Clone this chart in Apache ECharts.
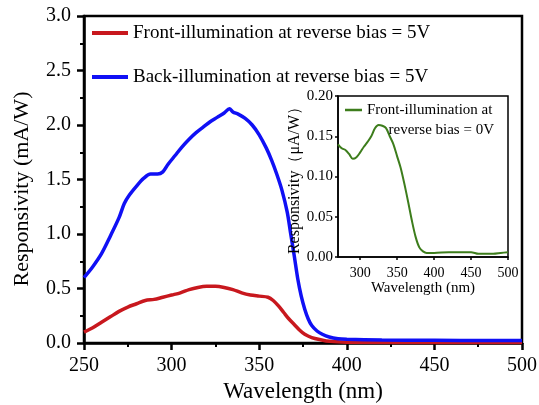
<!DOCTYPE html>
<html>
<head>
<meta charset="utf-8">
<script src="https://cdn.jsdelivr.net/npm/echarts@6/dist/echarts.min.js"></script>
<style>html,body{margin:0;padding:0;background:#fff}#c{width:539px;height:405px}</style>
</head>
<body>
<div id="c"></div>
<script>
// Main chart data (wavelength nm, responsivity mA/W)
const backWl   = [250,255,260,265,270,273,276,280,284,288,292,295,298,302,306,310,314,318,322,326,330,333,335,338,342,346,350,354,357,360,363,366,368,370,372,374,376,378,380,383,386,390,395,400,420,450,480,500];
const backVals = [0.60,0.70,0.82,0.98,1.15,1.28,1.36,1.44,1.51,1.55,1.55,1.57,1.64,1.72,1.80,1.87,1.93,1.98,2.03,2.07,2.11,2.15,2.12,2.10,2.06,2.00,1.91,1.79,1.68,1.55,1.40,1.20,1.00,0.80,0.59,0.43,0.31,0.22,0.16,0.11,0.08,0.055,0.04,0.035,0.028,0.025,0.022,0.022];
const frontWl   = [250,255,260,265,270,275,280,285,290,295,300,305,310,315,320,325,330,335,340,345,350,355,358,361,364,367,370,373,376,380,385,390,400,450,500];
const frontVals = [0.10,0.14,0.19,0.24,0.29,0.33,0.36,0.39,0.40,0.42,0.44,0.46,0.49,0.51,0.52,0.52,0.51,0.49,0.46,0.44,0.43,0.42,0.39,0.34,0.28,0.22,0.17,0.12,0.08,0.05,0.03,0.015,0.008,0.005,0.005];
// Inset data (wavelength nm, responsivity μA/W)
const insetWl   = [270,275,280,285,290,295,300,305,310,315,320,325,330,335,340,345,350,355,360,365,370,375,380,385,390,400,420,450,460,480,490,500];
const insetVals = [0.140,0.135,0.133,0.128,0.122,0.124,0.130,0.137,0.143,0.150,0.160,0.164,0.163,0.160,0.150,0.140,0.125,0.110,0.090,0.068,0.045,0.025,0.012,0.007,0.005,0.005,0.006,0.006,0.004,0.004,0.005,0.006];
const insetXTicks = [300,350,400,450,500];
const names = ['Front-illumination at reverse bias = 5V','Back-illumination at reverse bias = 5V','Front-illumination at reverse bias = 0V'];

const pairs = (xs, ys) => xs.map((x, i) => [x, ys[i]]);
const FONT = "'Liberation Serif','Times New Roman',serif";
const chart = echarts.init(document.getElementById('c'), null, {renderer: 'canvas'});

chart.setOption({
  animation: false,
  backgroundColor: '#fff',
  textStyle: {fontFamily: FONT, color: '#000'},
  grid: [
    {left: 84, right: 17, top: 16, bottom: 62, outerBoundsMode: 'none', containLabel: false,
     show: true, borderColor: '#000', borderWidth: 2.5, backgroundColor: 'transparent'},
    {left: 338, right: 31, top: 96, bottom: 148, outerBoundsMode: 'none', containLabel: false,
     show: true, borderColor: '#000', borderWidth: 1.5, backgroundColor: '#fff', z: 5}
  ],
  xAxis: [
    {gridIndex: 0, type: 'value', min: 250, max: 500, interval: 50,
     axisLine: {lineStyle: {color: '#000', width: 2.5}},
     axisTick: {inside: false, length: 7, lineStyle: {width: 2.5, color: '#000'}},
     minorTick: {show: true, splitNumber: 2, length: 4, lineStyle: {width: 2, color: '#000'}},
     splitLine: {show: false},
     axisLabel: {fontFamily: FONT, fontSize: 20, color: '#000', margin: 13},
     name: 'Wavelength (nm)', nameLocation: 'middle', nameGap: 33,
     nameTextStyle: {fontFamily: FONT, fontSize: 23, color: '#000'}},
    {gridIndex: 1, type: 'value', min: 270, max: 500,
     axisLine: {lineStyle: {color: '#000', width: 1.5}},
     axisTick: {inside: false, length: 3, customValues: insetXTicks, lineStyle: {width: 1.5, color: '#000'}},
     splitLine: {show: false},
     axisLabel: {fontFamily: FONT, fontSize: 14, color: '#000', margin: 9, customValues: insetXTicks},
     name: 'Wavelength (nm)', nameLocation: 'middle', nameGap: 13,
     nameTextStyle: {fontFamily: FONT, fontSize: 15, color: '#000'}, z: 6}
  ],
  yAxis: [
    {gridIndex: 0, type: 'value', min: 0, max: 3, interval: 0.5,
     axisLine: {lineStyle: {color: '#000', width: 2.5}},
     axisTick: {inside: false, length: 7, lineStyle: {width: 2.5, color: '#000'}},
     minorTick: {show: true, splitNumber: 2, length: 4, lineStyle: {width: 2, color: '#000'}},
     splitLine: {show: false},
     axisLabel: {fontFamily: FONT, fontSize: 20, color: '#000', margin: 13, formatter: v => v.toFixed(1)},
     name: 'Responsivity (mA/W)', nameLocation: 'middle', nameGap: 51,
     nameTextStyle: {fontFamily: FONT, fontSize: 22, color: '#000', padding: [0, 19, 0, 0]}},
    {gridIndex: 1, type: 'value', min: 0, max: 0.2, interval: 0.05,
     axisLine: {lineStyle: {color: '#000', width: 1.5}},
     axisTick: {inside: false, length: 3, lineStyle: {width: 1.5, color: '#000'}},
     splitLine: {show: false},
     axisLabel: {fontFamily: FONT, fontSize: 15, color: '#000', margin: 5, formatter: v => v.toFixed(2)},
     name: 'Responsivity（μA/W）', nameLocation: 'middle', nameGap: 31,
     nameTextStyle: {fontFamily: FONT, fontSize: 16, color: '#000'}, z: 6}
  ],
  legend: [
    {data: [names[0], names[1]], orient: 'vertical', left: 92, top: 23, padding: 0, icon: 'rect',
     itemWidth: 36, itemHeight: 4, itemGap: 24,
     textStyle: {fontFamily: FONT, fontSize: 19, color: '#000', lineHeight: 20}},
    {data: [names[2]], orient: 'vertical', left: 345, top: 101, padding: 0, icon: 'rect',
     itemWidth: 17, itemHeight: 2.5, itemGap: 0, z: 10,
     formatter: () => 'Front-illumination at',
     textStyle: {fontFamily: FONT, fontSize: 15, color: '#000', lineHeight: 18}}
  ],
  graphic: [
    {type: 'text', right: 45, top: 123, z: 100,
     style: {text: 'reverse bias = 0V', font: "15px 'Liberation Serif','Times New Roman',serif", fill: '#000'}}
  ],
  series: [
    {name: names[0], type: 'line', xAxisIndex: 0, yAxisIndex: 0, data: pairs(frontWl, frontVals),
     showSymbol: false, symbol: 'none', smooth: 0.3, lineStyle: {color: '#c8181e', width: 3.5}, itemStyle: {color: '#c8181e'}},
    {name: names[1], type: 'line', xAxisIndex: 0, yAxisIndex: 0, data: pairs(backWl, backVals),
     showSymbol: false, symbol: 'none', smooth: 0.3, lineStyle: {color: '#1010f5', width: 3.5}, itemStyle: {color: '#1010f5'}},
    {name: names[2], type: 'line', xAxisIndex: 1, yAxisIndex: 1, data: pairs(insetWl, insetVals), z: 7,
     showSymbol: false, symbol: 'none', smooth: 0.3, lineStyle: {color: '#3d7d1c', width: 2}, itemStyle: {color: '#3d7d1c'}}
  ]
});
</script>
</body>
</html>
